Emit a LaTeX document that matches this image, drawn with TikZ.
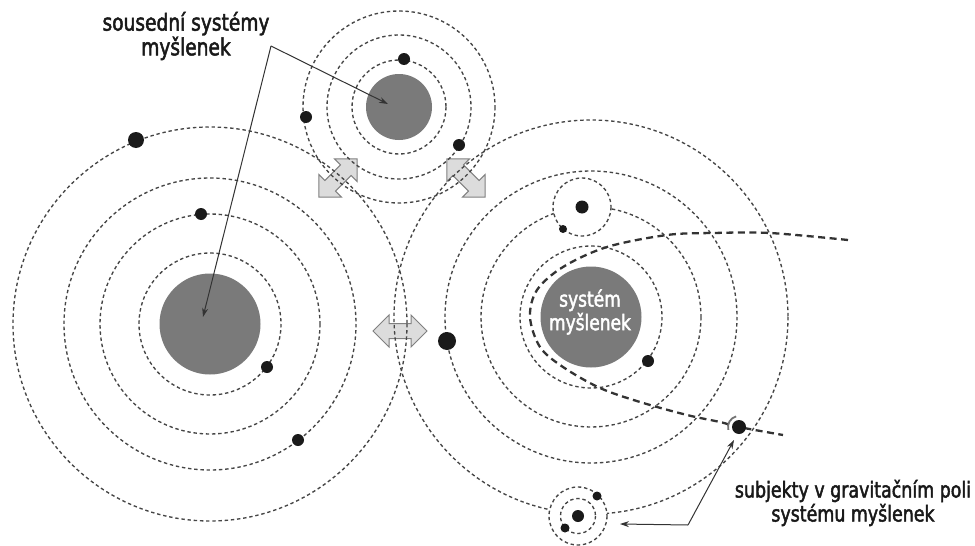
\documentclass[tikz,border=0pt]{standalone}
\usepackage{fontspec}
\setmainfont{DejaVu Sans Condensed}
\newfontfamily\lblfont{DejaVu Sans Condensed}[FakeStretch=0.88, FakeBold=2]
\usetikzlibrary{arrows.meta}
\definecolor{ringc}{HTML}{454545}
\definecolor{corec}{HTML}{7A7A7A}
\definecolor{dotc}{HTML}{1A1A1A}
\definecolor{arrfill}{HTML}{DCDCDC}
\definecolor{arrline}{HTML}{808080}
\definecolor{linec}{HTML}{333333}
\tikzset{
  orbit/.style={draw=ringc, line width=1.35pt, dash pattern=on 3.4pt off 2.8pt},
  core/.style={circle, fill=corec, inner sep=0pt},
  planet/.style={circle, fill=dotc, inner sep=0pt},
  lbl/.style={font=\lblfont\fontsize{23.5}{23.5}\selectfont, align=center, text=black!90},
  lblsmall/.style={lbl, font=\lblfont\fontsize{22}{24}\selectfont},
  lblcore/.style={lbl, font=\lblfont\fontsize{21.5}{23.5}\selectfont, text=white},
  pointer/.style={draw=linec, line width=1pt, -{Stealth[length=9pt,width=6pt]}},
  trajpath/.style={draw=linec, line width=2.3pt, dash pattern=on 7pt off 4.5pt},
  dblarrow/.style={fill=arrfill, draw=arrline, line width=1pt, line join=miter},
  pics/dbl/.style={code={
    \path[dblarrow] (-27,0) -- (-11,16) -- (-11,7.5) -- (11,7.5) -- (11,16) -- (27,0)
      -- (11,-16) -- (11,-7.5) -- (-11,-7.5) -- (-11,-16) -- cycle;}}
}
\begin{document}
\begin{tikzpicture}[x=1pt,y=-1pt]
\useasboundingbox (0,0) rectangle (975,546);
\fill[white] (0,0) rectangle (975,546);

% centres
\coordinate (L) at (210,324);
\coordinate (R) at (591,317);
\coordinate (T) at (399,107);
\coordinate (S1) at (582,207);
\coordinate (S2) at (578,516);

% double arrows (under the orbits)
\pic[rotate=45] (a1) at (338,178) {dbl};
\pic[rotate=-45] (a2) at (466,178) {dbl};
\pic (a3) at (400,331) {dbl};

% orbits
\foreach \r in {71,110,146,197} \draw[orbit] (L) circle[radius=\r];
\foreach \r in {71,110,146,197} \draw[orbit] (R) circle[radius=\r];
\foreach \r in {47,72,96} \draw[orbit] (T) circle[radius=\r];

% cores
\node[core, minimum size=101pt] (Lcore) at (L) {};
\node[core, minimum size=101pt] (Rcore) at (R) {};
\node[core, minimum size=66pt] (Tcore) at (T) {};
\node[lblcore] (Rtext) at (590,312) {systém\\myšlenek};

% small subsystems
\draw[orbit, fill=white] (S1) circle[radius=29];
\draw[orbit, fill=white] (S2) circle[radius=29];
\draw[orbit] (S2) circle[radius=17.5];

% trajectory
\draw[trajpath] plot[smooth, tension=0.55] coordinates {(848,240) (770,233) (713,233) (667,235) (607,247) (563,267) (537,290) (530,317) (540,347) (563,367) (600,388) (640,402) (687,415) (720,422) (739,427) (783,435)};

% planets
\node[planet, minimum size=16pt] (p1) at (136,140) {};
\node[planet, minimum size=12pt] (p2) at (201,214) {};
\node[planet, minimum size=12pt] (p3) at (267,367) {};
\node[planet, minimum size=12pt] (p4) at (298,440) {};
\node[planet, minimum size=12pt] (p5) at (404,59) {};
\node[planet, minimum size=12pt] (p6) at (306,117) {};
\node[planet, minimum size=12pt] (p7) at (459,145) {};
\node[planet, minimum size=18pt] (p8) at (447,341) {};
\node[planet, minimum size=12pt] (p9) at (648,361) {};
\node[planet, minimum size=13pt] (p10) at (S1) {};
\node[planet, minimum size=8pt] (p11) at (563,229) {};
\node[planet, minimum size=12pt] (p12) at (S2) {};
\node[planet, minimum size=9pt] (p13) at (597,496) {};
\node[planet, minimum size=9pt] (p14) at (565,528) {};
\node[planet, minimum size=14pt] (tdot) at (739,427) {};
\draw[black!55, line width=1.8pt] (tdot) ++(-105:11) arc[start angle=-105, end angle=-195, radius=11];

% labels
\node[lbl] (lab1) at (186,36) {sousední systémy\\myšlenek};
\node[lblsmall] (lab2) at (853,503) {subjekty v gravitačním poli\\systému myšlenek};

\coordinate (v1) at (271,46);
\coordinate (t1) at (388,104);
\coordinate (t2) at (203,317);
\draw[pointer] (v1) -- (t1);
\draw[pointer] (v1) -- (t2);

\coordinate (v2) at (688,525);
\coordinate (t3) at (620,524);
\coordinate (t4) at (734,440);
\draw[pointer] (v2) -- (t3);
\draw[pointer] (v2) -- (t4);
\end{tikzpicture}
\end{document}
